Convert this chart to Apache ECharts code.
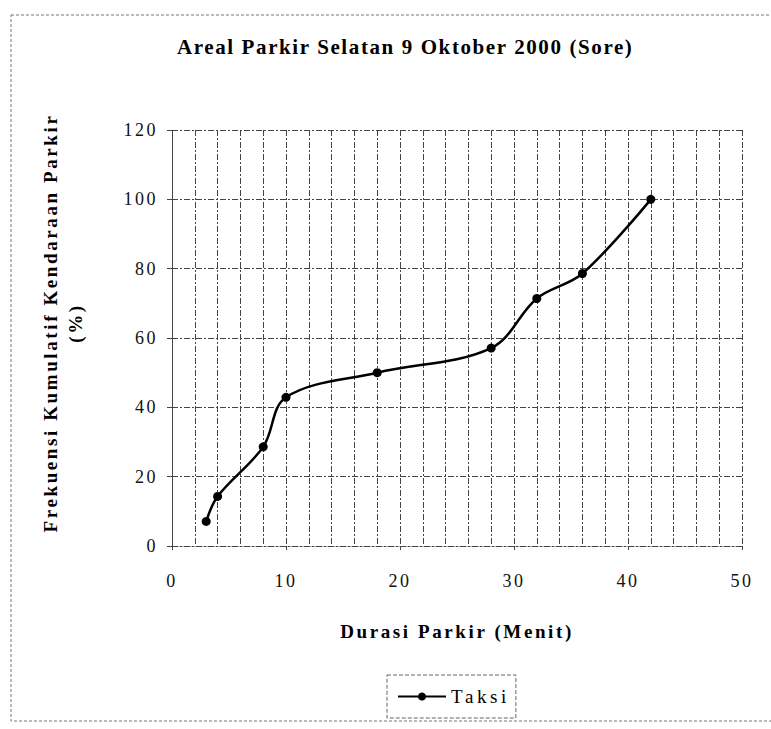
<!DOCTYPE html>
<html><head><meta charset="utf-8">
<script src="https://cdn.jsdelivr.net/npm/echarts@6/dist/echarts.min.js"></script>
<style>
html,body{margin:0;padding:0;background:#fff;}
#c{width:771px;height:729px;}
#c svg text{letter-spacing:2.5px;}
#c svg text[style*="bold"]{letter-spacing:2.6px;}
#c svg text[style*="21px"]{letter-spacing:1.6px;}
#c svg text[style*="19px"]:not([style*="bold"]){letter-spacing:3.6px;}
</style></head><body><div id="c"></div>
<script>
const durasi = [3, 4, 8, 10, 18, 28, 32, 36, 42];
const frekuensiKumulatif = [7.1, 14.3, 28.6, 42.9, 50.0, 57.1, 71.4, 78.6, 100];
const xTicks = [0, 10, 20, 30, 40, 50];
const yTicks = [0, 20, 40, 60, 80, 100, 120];
const seriesName = 'Taksi';
const titleText = 'Areal Parkir Selatan 9 Oktober 2000 (Sore)';
const xName = 'Durasi Parkir (Menit)';
const yName = 'Frekuensi Kumulatif Kendaraan Parkir\n(%)';

const FONT = "'Liberation Serif', 'Times New Roman', serif";
const gridLine = {show: true, lineStyle: {color: '#444', width: 1, type: [6, 2, 2, 2]}};

const chart = echarts.init(document.getElementById('c'), null, {renderer: 'svg', width: 771, height: 729});
chart.setOption({
  backgroundColor: '#fff',
  animation: false,
  title: {
    text: titleText, left: 172, top: 31, padding: 5,
    textStyle: {fontFamily: FONT, fontSize: 21, fontWeight: 'bold', color: '#000'}
  },
  graphic: [{
    type: 'rect', silent: true,
    shape: {x: 11, y: 15, width: 800, height: 706},
    style: {fill: 'none', stroke: '#777', lineWidth: 1, lineDash: [3, 2]}
  }],
  grid: {left: 172, right: 29, top: 130, bottom: 183},
  legend: {
    data: [seriesName], left: 387, top: 675, orient: 'horizontal',
    itemWidth: 48, itemHeight: 10, padding: [12, 24, 12, 10],
    borderColor: '#666', borderWidth: 1, borderType: 'dashed',
    textStyle: {fontFamily: FONT, fontSize: 19, color: '#000'}
  },
  xAxis: {
    type: 'value', min: xTicks[0], max: xTicks[xTicks.length - 1],
    interval: xTicks[1] - xTicks[0],
    name: xName, nameLocation: 'middle', nameGap: 76,
    nameTextStyle: {fontFamily: FONT, fontSize: 19, fontWeight: 'bold', color: '#000'},
    axisLine: {show: true, onZero: false, lineStyle: {color: '#444', width: 1, type: [6, 2, 2, 2]}},
    axisTick: {show: true, length: 4, lineStyle: {color: '#444'}},
    axisLabel: {margin: 26, fontFamily: FONT, fontSize: 18, color: '#111'},
    splitLine: gridLine,
    minorTick: {show: false, splitNumber: 5},
    minorSplitLine: {show: true, lineStyle: {color: '#444', width: 1, type: [6, 2, 2, 2]}}
  },
  yAxis: {
    type: 'value', min: yTicks[0], max: yTicks[yTicks.length - 1],
    interval: yTicks[1] - yTicks[0],
    name: yName, nameLocation: 'middle', nameGap: 84, nameRotate: 90,
    nameTextStyle: {fontFamily: FONT, fontSize: 19, fontWeight: 'bold', color: '#000', lineHeight: 25, padding: [0, 0, 0, 30]},
    axisLine: {show: true, lineStyle: {color: '#444', width: 1, type: [6, 2, 2, 2]}},
    axisTick: {show: true, length: 5, lineStyle: {color: '#444'}},
    axisLabel: {margin: 14, fontFamily: FONT, fontSize: 18, color: '#111'},
    splitLine: gridLine
  },
  series: [{
    name: seriesName, type: 'line', smooth: 0.35,
    symbol: 'circle', symbolSize: 9,
    itemStyle: {color: '#000'},
    lineStyle: {color: '#000', width: 2.5},
    data: durasi.map((d, i) => [d, frekuensiKumulatif[i]])
  }]
});
</script></body></html>
